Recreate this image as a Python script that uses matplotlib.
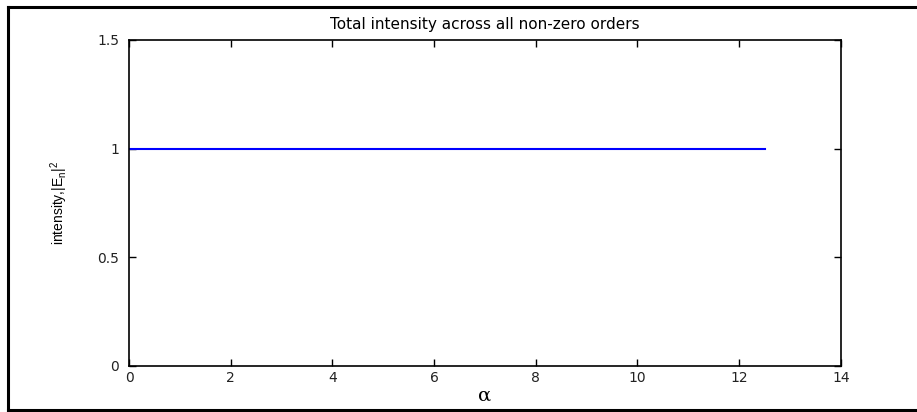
import matplotlib
matplotlib.use('Agg')
import matplotlib.pyplot as plt
from matplotlib.lines import Line2D

# data
alpha = [0.0, 12.5]
intensity = [1.0, 1.0]

xticks = [0, 2, 4, 6, 8, 10, 12, 14]
yticks = [0, 0.5, 1, 1.5]
ytick_labels = ['0', '0.5', '1', '1.5']

plt.rcParams['font.family'] = ['DejaVu Sans']
plt.rcParams['mathtext.fontset'] = 'custom'
plt.rcParams['mathtext.rm'] = 'Liberation Sans'
plt.rcParams['mathtext.it'] = 'Liberation Sans'

fig = plt.figure(figsize=(9.17, 4.12), dpi=100)
ax = fig.add_axes([0.1407, 0.1117, 0.917 - 0.1407, 0.903 - 0.1117])

ax.plot(alpha, intensity, color=(0, 0, 1), lw=1.5)

ax.set_xlim(0, 14)
ax.set_ylim(0, 1.5)
ax.set_xticks(xticks)
ax.set_yticks(yticks)
ax.set_yticklabels(ytick_labels)
ax.tick_params(direction='in', length=5, width=1, top=True, right=True,
               labelsize=10, labelcolor='#222222')
ax.tick_params(axis='y', pad=7)
ax.tick_params(axis='x', pad=3.5)
for sp in ax.spines.values():
    sp.set_linewidth(1.2)

ax.set_title('Total intensity across all non-zero orders', fontsize=11, pad=8)
ax.set_xlabel('α', fontsize=14, family=['DejaVu Serif'], labelpad=1)
ax.set_ylabel(r'intensity,$|\mathrm{E}_\mathrm{n}|^2$', fontsize=10,
              family=['Liberation Sans', 'DejaVu Sans'], labelpad=20)

# outer frame of the original screenshot
fig.add_artist(Line2D([0.0082, 1.0], [0.984, 0.984], transform=fig.transFigure, color='k', lw=2.2))
fig.add_artist(Line2D([0.0082, 0.0082], [0.006, 0.984], transform=fig.transFigure, color='k', lw=2.2))
fig.add_artist(Line2D([0.0082, 1.0], [0.006, 0.006], transform=fig.transFigure, color='k', lw=2.2))

fig.savefig('out.png', dpi=100)
